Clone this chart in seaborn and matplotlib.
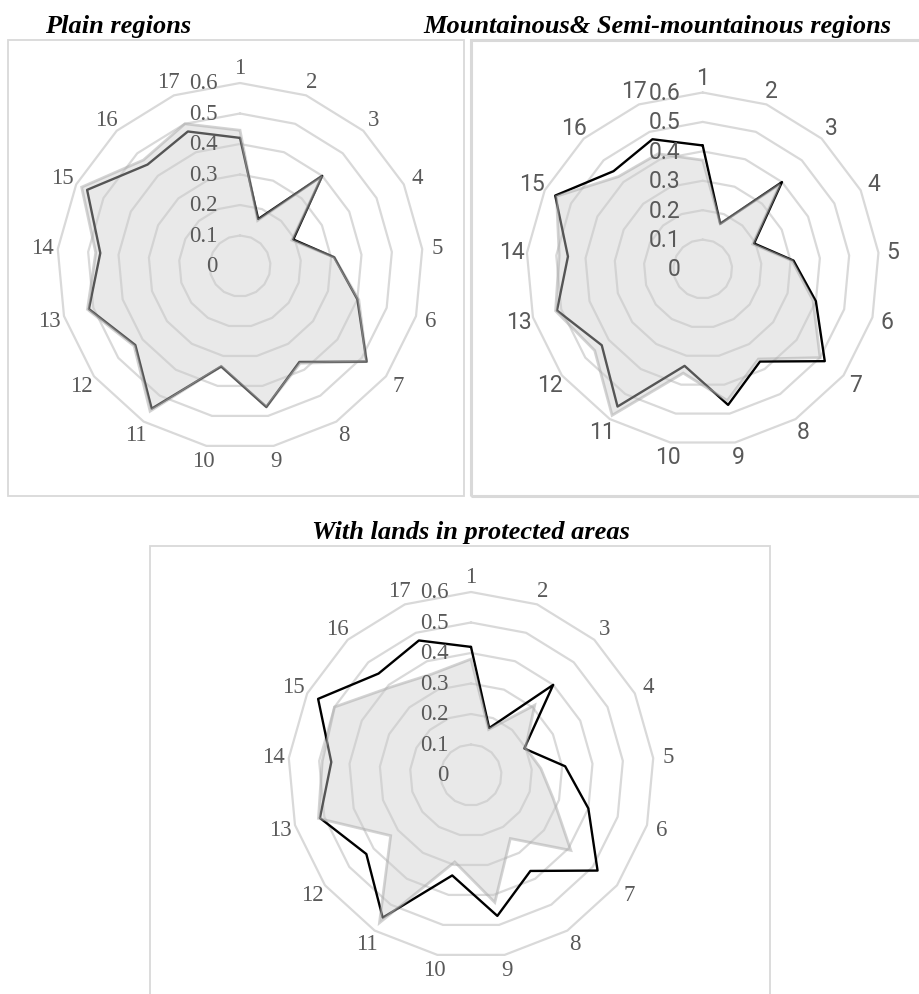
import numpy as np
import pandas as pd
import matplotlib
matplotlib.use("Agg")
import matplotlib.pyplot as plt
import matplotlib.transforms as mtransforms
from matplotlib.patches import Rectangle
import seaborn as sns

# ---- data -------------------------------------------------------------
indicators = [str(i) for i in range(1, 18)]
radial_ticks = [0, 0.1, 0.2, 0.3, 0.4, 0.5, 0.6]
radial_tick_labels = ["0", "0.1", "0.2", "0.3", "0.4", "0.5", "0.6"]

# overall sample (outline drawn in every panel)
overall = [0.42, 0.165, 0.40, 0.195, 0.31, 0.40, 0.52, 0.37, 0.47,
           0.335, 0.55, 0.43, 0.515, 0.46, 0.56, 0.45, 0.473]
# group profiles (shaded areas)
plain = [0.445, 0.16, 0.40, 0.19, 0.31, 0.405, 0.52, 0.375, 0.47,
         0.335, 0.56, 0.435, 0.52, 0.475, 0.58, 0.47, 0.50]
mountainous = [0.37, 0.165, 0.39, 0.19, 0.305, 0.39, 0.50, 0.36, 0.455,
               0.36, 0.585, 0.46, 0.52, 0.49, 0.555, 0.425, 0.42]
protected = [0.38, 0.16, 0.31, 0.20, 0.23, 0.28, 0.41, 0.245, 0.425,
             0.29, 0.57, 0.33, 0.52, 0.49, 0.50, 0.39, 0.355]

titles = ["Plain regions",
          "Mountainous& Semi-mountainous regions",
          "With lands in protected areas"]

# ---- style ------------------------------------------------------------
sns.set_theme(style="white")
plt.rcParams["font.family"] = ["Liberation Serif", "DejaVu Serif"]

W, H, DPI = 920, 995, 100
fig = plt.figure(figsize=(W / DPI, H / DPI), dpi=DPI)

GRID = "#d9d9d9"
TEXT = "#595959"

n = len(indicators)
theta = np.linspace(0, 2 * np.pi, n, endpoint=False)
theta_closed = np.append(theta, 2 * np.pi)


def closed(vals):
    return np.append(np.asarray(vals, float), vals[0])


def radar(cx, cy, rad, group, family, size):
    """Radar panel centred at pixel (cx, cy) with the 0.6 ring of radius rad."""
    ax = fig.add_axes([(cx - rad) / W, (H - cy - rad) / H, 2 * rad / W, 2 * rad / H],
                      projection="polar")
    ax.set_theta_zero_location("N")
    ax.set_theta_direction(-1)
    ax.grid(False)
    ax.set_xticks([])
    ax.set_yticks([])
    ax.spines["polar"].set_visible(False)
    ax.patch.set_alpha(0)

    # polygonal rings
    for r in radial_ticks[1:]:
        ax.plot(theta_closed, [r] * (n + 1), color=GRID, lw=1.6,
                zorder=1, clip_on=False)

    # overall outline
    df = pd.DataFrame({"theta": theta_closed, "value": closed(overall)})
    sns.lineplot(data=df, x="theta", y="value", sort=False, estimator=None,
                 color="black", lw=1.7, ax=ax, zorder=2)

    # group area (semi-transparent, drawn over the outline)
    ax.fill(theta_closed, closed(group), facecolor=(0.80, 0.80, 0.80, 0.42),
            edgecolor=(0.66, 0.66, 0.66, 0.5), lw=2.0, zorder=3, clip_on=False)

    ax.set_xlabel("")
    ax.set_ylabel("")
    ax.set_ylim(0, 0.6)

    # radial tick labels along the first spoke
    off = mtransforms.offset_copy(ax.transData, fig=fig, x=-22, y=0, units="dots")
    for v, lab in zip(radial_ticks, radial_tick_labels):
        ax.text(0, v, lab, transform=off, ha="right", va="center",
                fontsize=size, color=TEXT, family=family, zorder=5)

    # category labels
    for t, lab in zip(theta, indicators):
        ax.text(t, 0.65, lab, ha="center", va="center", fontsize=size,
                color=TEXT, family=family, zorder=5)
    return ax


serif = ["Liberation Serif", "DejaVu Serif"]
sans = ["Roboto", "DejaVu Sans"]

radar(240, 267, 183, plain, serif, 16.5)
radar(702.7, 270, 176.5, mountainous, sans, 16.5)
radar(471, 776, 183, protected, serif, 16.5)


# panel frames
def frame(x0, y0, x1, y1, lw=1.3):
    fig.add_artist(Rectangle((x0 / W, 1 - y1 / H), (x1 - x0) / W, (y1 - y0) / H,
                             transform=fig.transFigure, fill=False,
                             edgecolor=GRID, lw=lw, zorder=0))


frame(8, 41, 464, 497)
frame(471, 41, 925, 497, lw=2.2)
frame(150, 547, 770, 1010)

# titles
tkw = dict(fontsize=19, fontweight="bold", fontstyle="italic", color="black",
           family=serif, va="center")
fig.text(118 / W, 1 - 27 / H, titles[0], ha="center", **tkw)
fig.text(657 / W, 1 - 27 / H, titles[1], ha="center", **tkw)
fig.text(471 / W, 1 - 532 / H, titles[2], ha="center", **tkw)

fig.savefig("out.png", dpi=DPI)
